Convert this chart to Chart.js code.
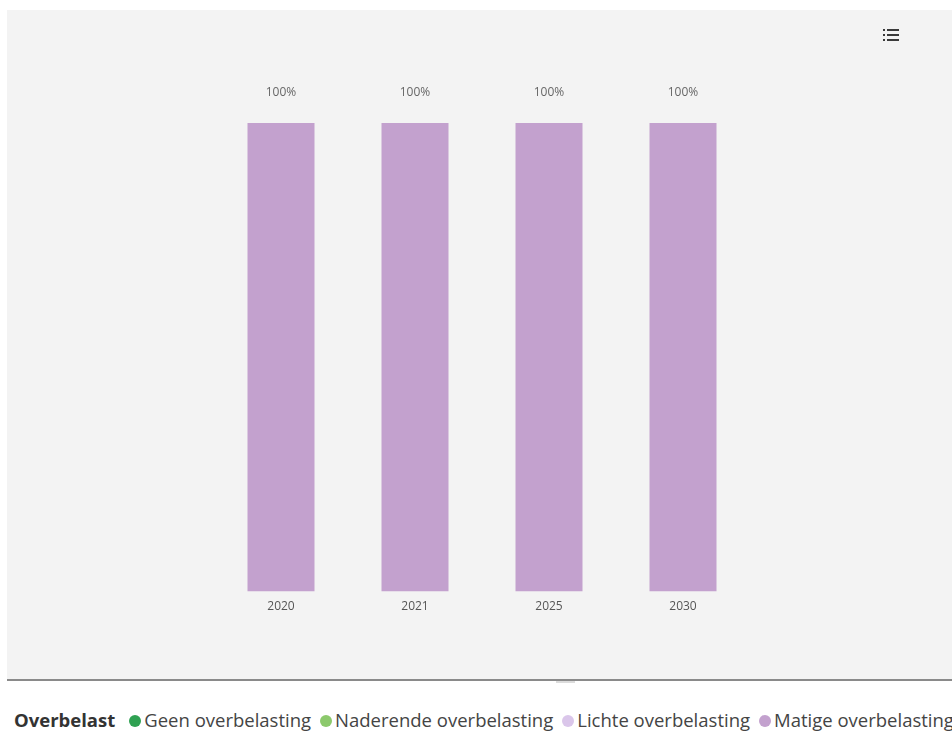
<!DOCTYPE html>
<html>
<head>
<meta charset="utf-8">
<script src="https://cdn.jsdelivr.net/npm/chart.js@4"></script>
<style>
  html, body { margin: 0; padding: 0; background: #fff; }
  body { width: 952px; height: 733px; position: relative; overflow: hidden; font-family: 'Open Sans', sans-serif; }
  .panel {
    position: absolute; left: 7px; top: 10px; width: 945px; height: 669px;
    background: #f3f3f3; border-bottom: 2px solid #8a8a8a;
  }
  .panel canvas { position: absolute; left: 0; top: 0; }
  .handle { position: absolute; left: 556px; top: 681px; width: 19px; height: 2px; background: #dcdcdc; }
  .menu { position: absolute; left: 876px; top: 19px; width: 16px; height: 14px; }
  .menu span { position: absolute; height: 2px; background: #3a3a3a; }
  .legend {
    position: absolute; left: 14px; top: 706px; white-space: nowrap;
    font-size: 18.5px; color: #444; line-height: 28px;
  }
  .legend b { color: #333; margin-right: 14px; }
  .legend .item { margin-right: 9px; }
  .legend .dot { display: inline-block; width: 12px; height: 12px; border-radius: 50%; margin-right: 3px; vertical-align: 0; }
</style>
</head>
<body>
<div class="panel">
  <canvas id="chart" width="945" height="669"></canvas>
  <div class="menu" id="menu"></div>
</div>
<div class="handle"></div>
<div class="legend" id="legend"></div>

<script>
const years = ['2020', '2021', '2025', '2030'];
const seriesNames = ['Geen overbelasting', 'Naderende overbelasting', 'Lichte overbelasting', 'Matige overbelasting'];
const seriesColors = ['#2fa152', '#8cc96c', '#dac6ea', '#c3a1ce'];
const geen = [0, 0, 0, 0];
const naderende = [0, 0, 0, 0];
const lichte = [0, 0, 0, 0];
const matige = [100, 100, 100, 100];
const legendTitle = 'Overbelast';

const seriesValues = [geen, naderende, lichte, matige];

// little hamburger-style list icon in the corner
const menu = document.getElementById('menu');
[0, 5, 10].forEach(y => {
  const dot = document.createElement('span');
  dot.style.cssText = `left:0;top:${y}px;width:2px;`;
  const bar = document.createElement('span');
  bar.style.cssText = `left:4px;top:${y}px;width:12px;`;
  menu.appendChild(dot);
  menu.appendChild(bar);
});

// percentage labels above each stack
const valueLabels = {
  id: 'valueLabels',
  afterDatasetsDraw(chart) {
    const ctx = chart.ctx;
    ctx.save();
    ctx.font = '12px "Open Sans", sans-serif';
    ctx.fillStyle = '#666';
    ctx.textAlign = 'center';
    ctx.textBaseline = 'middle';
    chart.data.datasets.forEach((ds, i) => {
      const meta = chart.getDatasetMeta(i);
      meta.data.forEach((bar, j) => {
        if (!ds.data[j]) return;
        ctx.fillText(ds.data[j] + '%', bar.x, bar.y - 30);
      });
    });
    ctx.restore();
  }
};

new Chart(document.getElementById('chart'), {
  type: 'bar',
  data: {
    labels: years,
    datasets: seriesNames.map((name, i) => ({
      label: name,
      data: seriesValues[i],
      backgroundColor: seriesColors[i],
      borderWidth: 0,
      categoryPercentage: 1,
      barPercentage: 0.5
    }))
  },
  options: {
    responsive: false,
    animation: false,
    layout: { padding: { top: 113, left: 207, right: 202, bottom: 65 } },
    plugins: {
      legend: { display: false },
      tooltip: { enabled: false }
    },
    scales: {
      x: {
        stacked: true,
        grid: { display: false },
        border: { display: false },
        ticks: { color: '#555', padding: 0, font: { size: 12, family: '"Open Sans", sans-serif' } }
      },
      y: {
        stacked: true,
        display: false,
        min: 0,
        max: 100
      }
    }
  },
  plugins: [valueLabels]
});

// legend row under the panel
const legend = document.getElementById('legend');
legend.innerHTML = `<b>${legendTitle}</b>` + seriesNames.map((name, i) =>
  `<span class="item"><span class="dot" style="background:${seriesColors[i]}"></span>${name}</span>`
).join('');
</script>
</body>
</html>
